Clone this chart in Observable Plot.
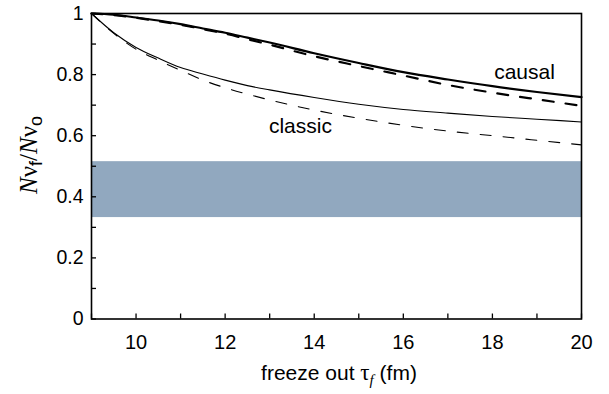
<!DOCTYPE html>
<html><head><meta charset="utf-8">
<script src="https://cdn.jsdelivr.net/npm/d3@7"></script>
<script src="https://cdn.jsdelivr.net/npm/@observablehq/plot@0.6"></script>
<style>body{margin:0;background:#fff;} svg{display:block;}</style>
</head><body><div id="chart"></div>
<script>
// freeze-out time grid (fm)
const tau = [9, 9.5, 10, 10.5, 11, 11.5, 12, 12.5, 13, 14, 15, 16, 17, 18, 19, 20];
// ratio N_vf / N_vo
const causalSolid  = [1.000, 0.996, 0.987, 0.977, 0.965, 0.951, 0.937, 0.921, 0.905, 0.870, 0.838, 0.808, 0.784, 0.762, 0.743, 0.726];
const causalDashed = [1.000, 0.995, 0.986, 0.975, 0.963, 0.949, 0.934, 0.916, 0.898, 0.860, 0.828, 0.797, 0.766, 0.741, 0.719, 0.698];
const classicSolid = [1.000, 0.937, 0.889, 0.854, 0.823, 0.802, 0.782, 0.764, 0.750, 0.725, 0.703, 0.686, 0.674, 0.663, 0.654, 0.645];
const classicDashed= [1.000, 0.935, 0.883, 0.847, 0.814, 0.782, 0.757, 0.736, 0.717, 0.684, 0.657, 0.634, 0.615, 0.600, 0.585, 0.570];
// experimental band
const bandLow = [0.332];
const bandHigh = [0.515];
// ticks
const xTicks = [9, 10, 11, 12, 13, 14, 15, 16, 17, 18, 19, 20];
const xLabeled = [10, 12, 14, 16, 18, 20];
const yTicks = [0, 0.1, 0.2, 0.3, 0.4, 0.5, 0.6, 0.7, 0.8, 0.9, 1];
const yLabeled = [0, 0.2, 0.4, 0.6, 0.8, 1];
// curve annotations
const annText = ["causal", "classic"];
const annX = [18.72, 13.69];
const annY = [0.787, 0.610];

const series = (ys) => tau.map((t, i) => ({t, v: ys[i]}));

const plot = Plot.plot({
  width: 609, height: 394,
  marginLeft: 91, marginRight: 28, marginTop: 13, marginBottom: 75.5,
  x: {domain: [9, 20], label: null},
  y: {domain: [0, 1], label: null},
  style: {fontFamily: "'Liberation Sans', Arial, sans-serif", fontSize: "20px", background: "#fff", color: "#000"},
  marks: [
    Plot.rect(bandLow, {x1: () => tau[0], x2: () => tau[tau.length - 1], y1: d => d, y2: (d, i) => bandHigh[i], fill: "#91a8bf"}),
    Plot.line(series(classicDashed), {x: "t", y: "v", stroke: "#000", strokeWidth: 1.1, strokeDasharray: "11,12", curve: "monotone-x"}),
    Plot.line(series(classicSolid), {x: "t", y: "v", stroke: "#000", strokeWidth: 1.1, curve: "monotone-x"}),
    Plot.line(series(causalDashed), {x: "t", y: "v", stroke: "#000", strokeWidth: 2.2, strokeDasharray: "11,12", curve: "monotone-x"}),
    Plot.line(series(causalSolid), {x: "t", y: "v", stroke: "#000", strokeWidth: 2.2, curve: "monotone-x"}),
    Plot.text(annText, {x: (d, i) => annX[i], y: (d, i) => annY[i], text: d => d, fontSize: 21, lineAnchor: "bottom", textAnchor: "middle", fill: "#000"}),
    Plot.axisX(xTicks, {anchor: "bottom", tickSize: -5, tickPadding: 21, strokeWidth: 1.3, fontSize: 20, tickFormat: d => xLabeled.includes(d) ? String(d) : null, label: null}),
    Plot.axisY(yTicks, {anchor: "left", tickSize: -5, tickPadding: 13, strokeWidth: 1.3, fontSize: 19.5, tickFormat: d => yLabeled.includes(d) ? d3.format("~g")(d) : null, label: null}),
    Plot.frame({stroke: "#000", strokeWidth: 1.6})
  ]
});

const svg = d3.select(plot);
// y-axis label: N ν_f / N ν_o
const yl = svg.append("text")
  .attr("transform", "translate(37,155) rotate(-90)")
  .attr("text-anchor", "middle")
  .attr("font-size", 25)
  .attr("fill", "#000");
yl.append("tspan").attr("font-family", "'Liberation Serif', 'Times New Roman', serif").attr("font-style", "italic").text("N");
yl.append("tspan").attr("font-family", "'Liberation Serif', 'Times New Roman', serif").text("ν");
yl.append("tspan").attr("font-family", "'Liberation Sans', Arial, sans-serif").attr("font-size", 18).attr("dy", 5).text("f");
yl.append("tspan").attr("font-family", "'Liberation Serif', 'Times New Roman', serif").attr("dy", -5).text("/");
yl.append("tspan").attr("font-family", "'Liberation Serif', 'Times New Roman', serif").attr("font-style", "italic").text("N");
yl.append("tspan").attr("font-family", "'Liberation Serif', 'Times New Roman', serif").text("ν");
yl.append("tspan").attr("font-family", "'Liberation Sans', Arial, sans-serif").attr("font-size", 18).attr("dy", 5).text("o");

// x-axis label: freeze out τ_f (fm)
const xl = svg.append("text")
  .attr("x", 339).attr("y", 380)
  .attr("text-anchor", "middle")
  .attr("font-size", 21)
  .attr("font-family", "'Liberation Sans', Arial, sans-serif")
  .attr("fill", "#000");
xl.append("tspan").text("freeze out ");
xl.append("tspan").attr("font-family", "'Liberation Serif', 'Times New Roman', serif").attr("font-size", 23).text("τ");
xl.append("tspan").attr("font-family", "'Liberation Serif', 'Times New Roman', serif").attr("font-style", "italic").attr("font-size", 15).attr("dy", 5).text("f");
xl.append("tspan").attr("dy", -5).text(" (fm)");

document.getElementById("chart").appendChild(plot);
</script>
</body></html>
